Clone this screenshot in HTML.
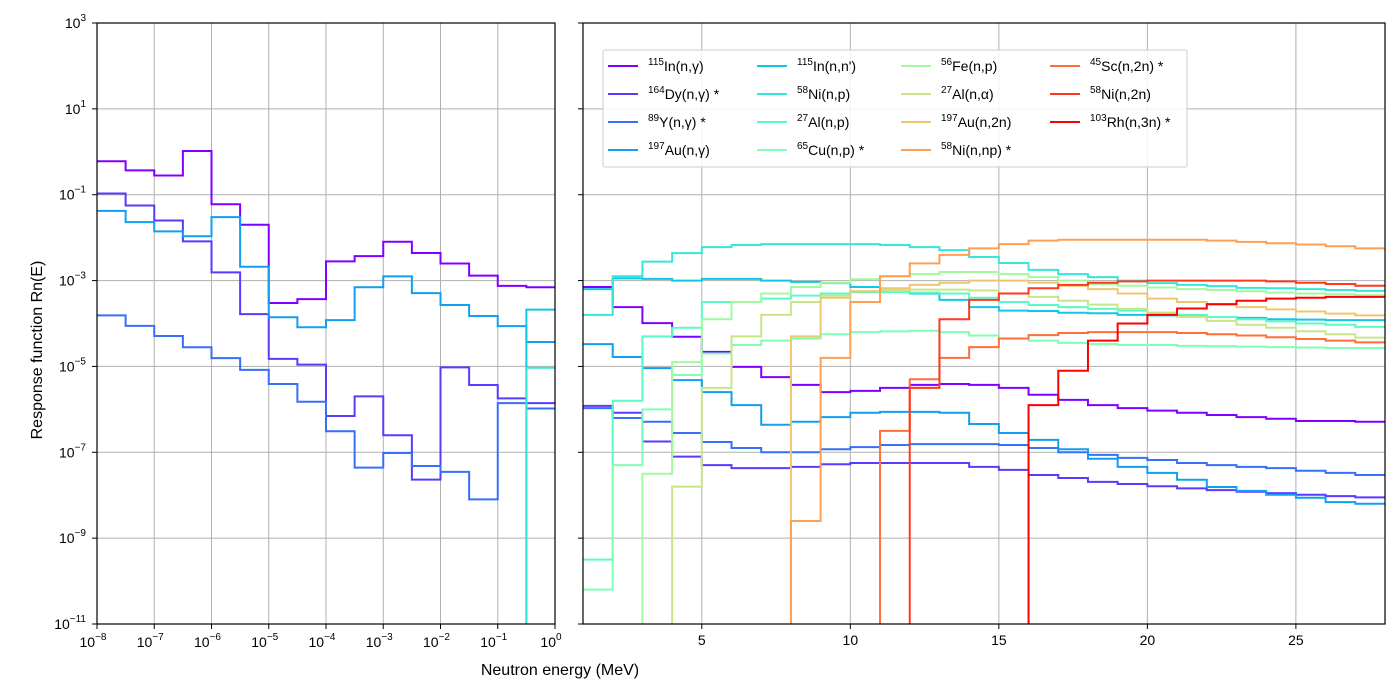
<!DOCTYPE html>
<html><head><meta charset="utf-8">
<style>
html,body{margin:0;padding:0;background:#fff;}
svg{display:block;font-family:"Liberation Sans","DejaVu Sans",sans-serif;}
</style></head>
<body>
<svg id="chart" width="1400" height="700" viewBox="0 0 1400 700" xmlns="http://www.w3.org/2000/svg">
  <rect x="0" y="0" width="1400" height="700" fill="#fff"/>
  <defs>
    <clipPath id="clipL"><rect x="97" y="23" width="458" height="601"/></clipPath>
    <clipPath id="clipR"><rect x="583" y="23" width="802" height="601"/></clipPath>
  </defs>
  <g id="gridL"></g>
  <g id="gridR"></g>
  <g id="seriesL" clip-path="url(#clipL)"></g>
  <g id="seriesR" clip-path="url(#clipR)"></g>
  <rect x="97" y="23" width="458" height="601" fill="none" stroke="#000" stroke-width="1.2"/>
  <rect x="583" y="23" width="802" height="601" fill="none" stroke="#000" stroke-width="1.2"/>
  <g id="ticks"></g>
  <text x="42" y="350" font-size="16" text-anchor="middle" transform="rotate(-90 42 350)">Response function Rn(E)</text>
  <text x="560" y="675" font-size="16" text-anchor="middle">Neutron energy (MeV)</text>
  <g id="legend">
    <rect x="603" y="50" width="584" height="117" fill="#fff" fill-opacity="0.85" stroke="#ccc" stroke-width="1" rx="2"/>
  </g>
</svg>
<script>
// ---- data ----
const seriesNames = ["115In(n,γ)","164Dy(n,γ) *","89Y(n,γ) *","197Au(n,γ)","115In(n,n')","58Ni(n,p)","27Al(n,p)","65Cu(n,p) *","56Fe(n,p)","27Al(n,α)","197Au(n,2n)","58Ni(n,np) *","45Sc(n,2n) *","58Ni(n,2n)","103Rh(n,3n) *"];
const massNumbers = ["115","164","89","197","115","58","27","65","56","27","197","58","45","58","103"];
const reactionLabels = ["In(n,γ)","Dy(n,γ) *","Y(n,γ) *","Au(n,γ)","In(n,n')","Ni(n,p)","Al(n,p)","Cu(n,p) *","Fe(n,p)","Al(n,α)","Au(n,2n)","Ni(n,np) *","Sc(n,2n) *","Ni(n,2n)","Rh(n,3n) *"];

// Left panel: half-decade bins from 1e-8 to 1 MeV (values of Rn)
const leftBinEdgesExp = [-8,-7.5,-7,-6.5,-6,-5.5,-5,-4.5,-4,-3.5,-3,-2.5,-2,-1.5,-1,-0.5,0];
const inNgLeft = [0.6,0.37,0.28,1.04,0.06,0.02,3e-4,3.7e-4,2.8e-3,3.7e-3,8e-3,4.4e-3,2.5e-3,1.3e-3,7.5e-4,7e-4];
const dyNgLeft = [0.107,0.056,0.025,8.2e-3,1.55e-3,1.65e-4,1.5e-5,1.1e-5,7e-7,2e-6,2.5e-7,2.3e-8,9.5e-6,3.7e-6,1.8e-6,1.4e-6];
const yNgLeft = [1.55e-4,8.8e-5,5.1e-5,2.8e-5,1.56e-5,8.3e-6,3.9e-6,1.5e-6,3.1e-7,4.4e-8,9.6e-8,4.8e-8,3.5e-8,8e-9,1.4e-6,1.05e-6];
const auNgLeft = [0.042,0.023,0.014,0.0108,0.03,2.1e-3,1.4e-4,8.2e-5,1.2e-4,7e-4,1.25e-3,5.1e-4,2.7e-4,1.5e-4,8.7e-5,3.7e-5];
const inNnLeft = [0,0,0,0,0,0,0,0,0,0,0,0,0,0,0,2.1e-4];
const niNpLeft = [0,0,0,0,0,0,0,0,0,0,0,0,0,0,0,9.3e-6];

// Right panel: 1 MeV bins from 1 to 28 MeV (log10 of Rn; null = zero)
const rightBinEdges = [1,2,3,4,5,6,7,8,9,10,11,12,13,14,15,16,17,18,19,20,21,22,23,24,25,26,27,28];
const inNgRight = [-3.15,-3.62,-3.99,-4.31,-4.66,-5.01,-5.25,-5.43,-5.6,-5.57,-5.5,-5.43,-5.41,-5.43,-5.5,-5.66,-5.78,-5.9,-5.97,-6.03,-6.08,-6.13,-6.18,-6.22,-6.27,-6.27,-6.29];
const dyNgRight = [-5.92,-6.08,-6.75,-7.1,-7.3,-7.37,-7.37,-7.34,-7.28,-7.25,-7.25,-7.25,-7.25,-7.34,-7.41,-7.53,-7.6,-7.69,-7.74,-7.79,-7.84,-7.88,-7.92,-7.95,-7.99,-8.02,-8.05];
const yNgRight = [-5.97,-6.2,-6.29,-6.55,-6.76,-6.9,-7.0,-7.0,-6.93,-6.88,-6.83,-6.81,-6.81,-6.81,-6.83,-6.9,-7.0,-7.06,-7.13,-7.18,-7.25,-7.3,-7.34,-7.37,-7.43,-7.48,-7.53];
const auNgRight = [-4.48,-4.78,-5.04,-5.32,-5.6,-5.9,-6.36,-6.29,-6.18,-6.08,-6.06,-6.06,-6.08,-6.34,-6.55,-6.71,-6.93,-7.15,-7.34,-7.48,-7.64,-7.81,-7.9,-7.99,-8.06,-8.16,-8.2];
const inNnRight = [-3.2,-2.95,-2.96,-3.0,-2.96,-2.96,-3.0,-3.03,-3.06,-3.15,-3.22,-3.3,-3.45,-3.62,-3.7,-3.71,-3.75,-3.76,-3.8,-3.81,-3.82,-3.85,-3.87,-3.9,-3.91,-3.92,-3.92];
const niNpRight = [-3.8,-2.9,-2.56,-2.36,-2.22,-2.17,-2.15,-2.15,-2.15,-2.15,-2.17,-2.22,-2.29,-2.45,-2.59,-2.75,-2.85,-2.92,-3.0,-3.06,-3.1,-3.13,-3.17,-3.18,-3.2,-3.22,-3.24];
const alNpRight = [-9.5,-5.8,-4.3,-4.1,-3.5,-3.5,-3.42,-3.35,-3.3,-3.27,-3.27,-3.28,-3.3,-3.4,-3.5,-3.57,-3.62,-3.66,-3.7,-3.75,-3.8,-3.85,-3.9,-3.95,-4.0,-4.03,-4.08];
const cuNpRight = [-10.2,-7.3,-6.0,-5.2,-4.7,-4.5,-4.4,-4.35,-4.25,-4.2,-4.18,-4.17,-4.2,-4.28,-4.35,-4.4,-4.45,-4.48,-4.5,-4.5,-4.52,-4.53,-4.54,-4.55,-4.56,-4.57,-4.57];
const feNpRight = [null,null,-7.5,-4.9,-3.9,-3.5,-3.3,-3.15,-3.05,-2.97,-2.9,-2.85,-2.8,-2.8,-2.85,-2.92,-3.0,-3.08,-3.12,-3.16,-3.2,-3.22,-3.25,-3.28,-3.3,-3.32,-3.34];
const alNaRight = [null,null,null,-7.8,-5.5,-4.3,-3.8,-3.5,-3.35,-3.25,-3.22,-3.21,-3.21,-3.23,-3.3,-3.38,-3.47,-3.56,-3.66,-3.75,-3.85,-3.94,-4.03,-4.1,-4.18,-4.25,-4.33];
const auN2nRight = [null,null,null,null,null,null,null,-4.3,-3.4,-3.25,-3.18,-3.1,-3.05,-3.0,-3.0,-3.05,-3.12,-3.2,-3.3,-3.42,-3.5,-3.56,-3.62,-3.67,-3.72,-3.77,-3.81];
const niNnpRight = [null,null,null,null,null,null,null,-8.6,-4.8,-3.5,-2.9,-2.6,-2.4,-2.25,-2.15,-2.07,-2.05,-2.05,-2.05,-2.05,-2.05,-2.07,-2.1,-2.13,-2.16,-2.2,-2.25];
const scN2nRight = [null,null,null,null,null,null,null,null,null,null,-6.5,-5.3,-4.8,-4.55,-4.35,-4.27,-4.22,-4.2,-4.2,-4.2,-4.22,-4.25,-4.28,-4.32,-4.36,-4.4,-4.44];
const niN2nRight = [null,null,null,null,null,null,null,null,null,null,null,-5.5,-3.9,-3.45,-3.3,-3.18,-3.1,-3.05,-3.02,-3.0,-3.0,-3.0,-3.0,-3.02,-3.05,-3.08,-3.12];
const rhN3nRight = [null,null,null,null,null,null,null,null,null,null,null,null,null,null,null,-5.9,-5.1,-4.4,-4.0,-3.8,-3.65,-3.55,-3.47,-3.42,-3.4,-3.38,-3.38];

const leftTickExps = [-8,-7,-6,-5,-4,-3,-2,-1,0];
const rightTicks = [5,10,15,20,25];
const yTickExps = [3,1,-1,-3,-5,-7,-9,-11];

// ---- scales ----
const NS = "http://www.w3.org/2000/svg";
const PT = 23, PB = 624;
const yScale = lg => PT + (3 - lg) * (PB - PT) / 14;
const xL = e => 97 + (e + 8) * 458 / 8;
const xR = E => 583 + (E - 1) * 802 / 27;
function mk(tag, attrs, parent){ const el=document.createElementNS(NS,tag); for(const k in attrs) el.setAttribute(k,attrs[k]); parent.appendChild(el); return el; }
function color(i){ const x=i/14; const c=v=>Math.round(Math.max(0,Math.min(1,v))*255);
  return `rgb(${c(Math.abs(2*x-0.5))},${c(Math.sin(Math.PI*x))},${c(Math.cos(Math.PI*x/2))})`; }

// grid
const gL=document.getElementById('gridL'), gR=document.getElementById('gridR'), tk=document.getElementById('ticks');
leftTickExps.forEach(e=>{ const l=mk('line',{x1:xL(e),x2:xL(e),y1:PT,y2:PB,stroke:'#b0b0b0','stroke-width':1},gL);
    });
rightTicks.forEach(E=>{ const l=mk('line',{x1:xR(E),x2:xR(E),y1:PT,y2:PB,stroke:'#b0b0b0','stroke-width':1},gR);
    });
yTickExps.forEach(e=>{ [[97,555,gL],[583,1385,gR]].forEach(([a,b,g])=>{ const l=mk('line',{x1:a,x2:b,y1:yScale(e),y2:yScale(e),stroke:'#b0b0b0','stroke-width':1},g);
    }); });

// ticks + labels
yTickExps.forEach(e=>{ const y=yScale(e);
  mk('line',{x1:92,x2:97,y1:y,y2:y,stroke:'#000'},tk); mk('line',{x1:578,x2:583,y1:y,y2:y,stroke:'#000'},tk);
  const t=mk('text',{x:86,y:y+5,'font-size':14,'text-anchor':'end'},tk);
   
  t.appendChild(document.createTextNode('10')); const s=mk('tspan',{dy:-7,'font-size':10},t); s.textContent=String(e).replace('-','−'); });
leftTickExps.forEach(e=>{ const x=xL(e); mk('line',{x1:x,x2:x,y1:PB,y2:PB+5,stroke:'#000'},tk);
  const t=mk('text',{x:x-4,y:647,'font-size':14,'text-anchor':'middle'},tk);
   
  t.appendChild(document.createTextNode('10')); const s=mk('tspan',{dy:-7,'font-size':10},t); s.textContent=String(e).replace('-','−'); });
rightTicks.forEach(E=>{ const x=xR(E); mk('line',{x1:x,x2:x,y1:PB,y2:PB+5,stroke:'#000'},tk);
  const t=mk('text',{x:x,y:645,'font-size':14,'text-anchor':'middle'},tk);
    t.textContent=E; });

// step drawing
function stepPath(edgesPx, ys){ let d='';
  for(let i=0;i<ys.length;i++){ const y=ys[i];
    d += (i===0?'M':'L') + edgesPx[i] + ' ' + y + ' L' + edgesPx[i+1] + ' ' + y + ' '; }
  return d; }
const BOTTOM = PB + 20;
const leftSeries = [[0,inNgLeft],[1,dyNgLeft],[2,yNgLeft],[3,auNgLeft],[4,inNnLeft],[5,niNpLeft]];
const sL=document.getElementById('seriesL');
const lEdges = leftBinEdgesExp.map(xL);
leftSeries.forEach(([i,vals])=>{ const ys=vals.map(v=> v>0 ? yScale(Math.log10(v)) : BOTTOM);
  const p=mk('path',{d:stepPath(lEdges,ys),fill:'none',stroke:color(i),'stroke-width':2},sL);
    });
const rightSeries=[inNgRight,dyNgRight,yNgRight,auNgRight,inNnRight,niNpRight,alNpRight,cuNpRight,feNpRight,alNaRight,auN2nRight,niNnpRight,scN2nRight,niN2nRight,rhN3nRight];
const sR=document.getElementById('seriesR');
const rEdges = rightBinEdges.map(xR);
rightSeries.forEach((vals,i)=>{ const ys=vals.map(v=> v===null ? BOTTOM : yScale(v));
  const p=mk('path',{d:stepPath(rEdges,ys),fill:'none',stroke:color(i),'stroke-width':2},sR);
    });

// legend
const lg=document.getElementById('legend');
const colX=[608,757,901,1050], rowY=[66,94,122,150];
reactionLabels.forEach((lab,i)=>{ const c=Math.floor(i/4), r=i%4; const x=colX[c], y=rowY[r];
  const g=mk('g',{},lg);  
  mk('line',{x1:x,x2:x+30,y1:y,y2:y,stroke:color(i),'stroke-width':2},g);
  const t=mk('text',{x:x+40,y:y+5,'font-size':14},g);
  const s=mk('tspan',{dy:-6,'font-size':10},t); s.textContent=massNumbers[i];
  const m=mk('tspan',{dy:6},t); m.textContent=lab; });
</script>
</body></html>
